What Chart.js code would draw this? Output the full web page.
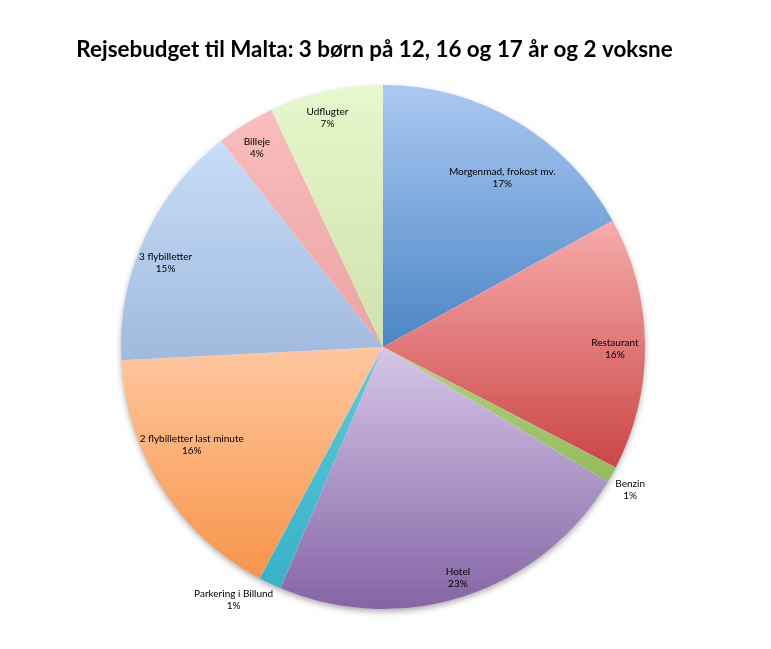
<!DOCTYPE html>
<html>
<head>
<meta charset="utf-8">
<script src="https://cdn.jsdelivr.net/npm/chart.js@4.4.1/dist/chart.umd.min.js"></script>
<style>
  html, body { margin: 0; padding: 0; background: #ffffff; }
  #wrap { width: 771px; height: 649px; position: relative; }
</style>
</head>
<body>
<div id="wrap"><canvas id="c" width="771" height="649"></canvas></div>
<script>
// ---- data ----
const titleText = 'Rejsebudget til Malta: 3 børn på 12, 16 og 17 år og 2 voksne';
const categories = ['Morgenmad, frokost mv.', 'Restaurant', 'Benzin', 'Hotel', 'Parkering i Billund',
                    '2 flybilletter last minute', '3 flybilletter', 'Billeje', 'Udflugter'];
const shares = [17.0, 15.6, 1.0, 22.8, 1.4, 16.4, 15.2, 3.6, 7.0];

// ---- style ----
const lightColors = ['#abc8f1', '#f8acac', '#b0d381', '#d6c6e8', '#5ccbdc', '#ffc79f', '#c7ddf8', '#fabdbd', '#e6f8cc'];
const darkColors  = ['#4a86c6', '#cb4545', '#93bb5c', '#8565a5', '#38b1c7', '#f7944a', '#a0b9de', '#eaa3a3', '#cfe1ab'];
// label placement: radial factor, fraction of slice angle
const labelRadius = [0.79, 0.885, 1.09, 0.925, 1.12, 0.82, 0.89, 0.90, 0.90];
const labelFrac   = [0.575, 0.52, 0.75, 0.50, 1.5, 0.59, 0.44, 0.45, 0.46];

function sliceGradient(c) {
  const chart = c.chart, area = chart.chartArea, i = c.dataIndex;
  if (!area || i === undefined) return lightColors[i || 0];
  const cx = (area.left + area.right) / 2, cy = (area.top + area.bottom) / 2;
  const r = Math.min(area.right - area.left, area.bottom - area.top) / 2;
  const vals = chart.data.datasets[0].data;
  const total = vals.reduce((a, b) => a + b, 0);
  let before = 0; for (let k = 0; k < i; k++) before += vals[k];
  const a0 = -Math.PI / 2 + 2 * Math.PI * before / total;
  const a1 = a0 + 2 * Math.PI * vals[i] / total;
  const ys = [cy, cy + r * Math.sin(a0), cy + r * Math.sin(a1)];
  if (a0 <= Math.PI / 2 && a1 >= Math.PI / 2) ys.push(cy + r);
  if (a0 <= -Math.PI / 2 + 1e-9 || a1 >= 3 * Math.PI / 2 - 1e-9) ys.push(cy - r);
  const y0 = Math.min(...ys), y1 = Math.max(...ys);
  const g = chart.ctx.createLinearGradient(0, y0, 0, Math.max(y1, y0 + 1));
  g.addColorStop(0, lightColors[i]);
  g.addColorStop(1, darkColors[i]);
  return g;
}

const shadowPlugin = {
  id: 'pieShadow',
  beforeDatasetsDraw(chart) {
    const arc = chart.getDatasetMeta(0).data[0];
    if (!arc) return;
    const { x, y, outerRadius } = arc.getProps(['x', 'y', 'outerRadius'], true);
    const ctx = chart.ctx;
    ctx.save();
    ctx.shadowColor = 'rgba(0,0,0,0.35)';
    ctx.shadowBlur = 6;
    ctx.shadowOffsetY = 3;
    ctx.fillStyle = '#ffffff';
    ctx.beginPath();
    ctx.arc(x, y, outerRadius - 0.5, 0, Math.PI * 2);
    ctx.fill();
    ctx.restore();
  }
};

const titlePlugin = {
  id: 'offsetTitle',
  afterDraw(chart) {
    const ctx = chart.ctx;
    ctx.save();
    ctx.fillStyle = '#000000';
    ctx.font = 'bold 22.4px Lato';
    ctx.textAlign = 'center';
    ctx.textBaseline = 'middle';
    ctx.fillText(titleText, 374.5, 50);
    ctx.restore();
  }
};

const labelPlugin = {
  id: 'sliceLabels',
  afterDatasetsDraw(chart) {
    const ctx = chart.ctx;
    const meta = chart.getDatasetMeta(0);
    const vals = chart.data.datasets[0].data;
    const total = vals.reduce((a, b) => a + b, 0);
    ctx.save();
    ctx.fillStyle = '#000000';
    ctx.font = '10px Lato';
    ctx.textAlign = 'center';
    ctx.textBaseline = 'middle';
    meta.data.forEach((el, i) => {
      const p = el.getProps(['x', 'y', 'startAngle', 'endAngle', 'outerRadius'], true);
      const a = p.startAngle + (p.endAngle - p.startAngle) * labelFrac[i];
      const rr = p.outerRadius * labelRadius[i];
      const lx = p.x + Math.cos(a) * rr, ly = p.y + Math.sin(a) * rr;
      const pct = Math.round(vals[i] / total * 100) + '%';
      ctx.fillText(chart.data.labels[i], lx, ly - 6);
      ctx.fillText(pct, lx, ly + 6);
    });
    ctx.restore();
  }
};

new Chart(document.getElementById('c'), {
  type: 'pie',
  data: {
    labels: categories,
    datasets: [{
      data: shares,
      backgroundColor: sliceGradient,
      borderWidth: 0,
      hoverOffset: 0
    }]
  },
  options: {
    responsive: false,
    animation: false,
    events: [],
    layout: { padding: { left: 0, right: 5, top: 85, bottom: 40 } },
    plugins: {
      legend: { display: false },
      tooltip: { enabled: false },
      title: { display: false }
    }
  },
  plugins: [shadowPlugin, labelPlugin, titlePlugin]
});
</script>
</body>
</html>
